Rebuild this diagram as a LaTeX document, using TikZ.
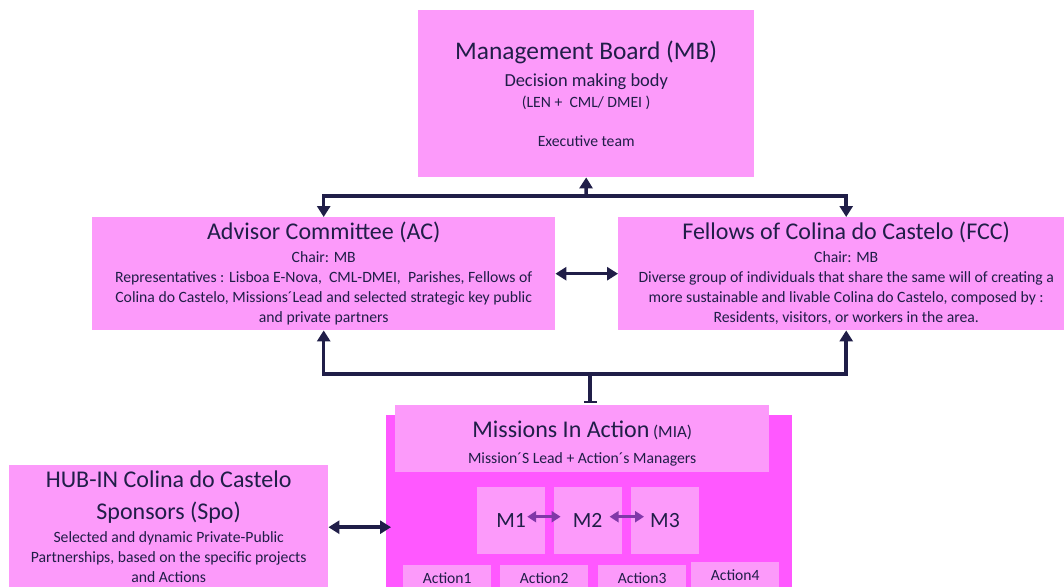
\documentclass[tikz,border=0pt]{standalone}
\usepackage{fontspec}
\setmainfont{Carlito}
\usepackage{xcolor}
\usetikzlibrary{arrows.meta,positioning,calc}

\definecolor{boxpink}{RGB}{252,154,250}
\definecolor{miamag}{RGB}{255,88,255}
\definecolor{navy}{RGB}{32,30,72}
\definecolor{mpurple}{RGB}{128,56,168}

\newcommand{\titlesize}{\fontsize{24}{28}\selectfont}
\newcommand{\subsize}{\fontsize{18.4}{21}\selectfont}
\newcommand{\bodysize}{\fontsize{15.7}{20}\selectfont}

\begin{document}
\begin{tikzpicture}[x=1pt, y=-1pt,
                every node/.style={text=navy, inner sep=0pt},
                pinkbox/.style={fill=boxpink, align=center, anchor=north west, font=\bodysize},
                rel/.style={draw=navy, line width=3.5pt, -{Triangle[length=11pt,width=13pt]}},
                both/.style={draw=navy, line width=3.5pt, {Triangle[length=11pt,width=13pt]}-{Triangle[length=11pt,width=13pt]}},
                stem/.style={draw=navy, line width=3.5pt, -{Bar[width=13pt,line width=2.5pt]}},
                mrel/.style={draw=mpurple, line width=3pt, {Triangle[length=9pt,width=11pt]}-{Triangle[length=9pt,width=11pt]}},
                mbox/.style={fill=boxpink, minimum width=68pt, minimum height=67pt, font=\fontsize{21.7}{24}\selectfont},
                actbox/.style={fill=boxpink, minimum width=88pt, minimum height=25pt, anchor=north west, font=\fontsize{15.6}{18}\selectfont}
            ]
                \useasboundingbox (0,0) rectangle (1064,586);

                % Management Board
                \node[pinkbox, minimum width=336pt, minimum height=167pt] (mb) at (418,10)
                    {{\fontsize{25.4}{28}\selectfont Management Board (MB)}\\[7pt]
                     {\subsize Decision making body}\\[1pt]
                     (LEN +\ \ CML/ DMEI )\\[19pt]
                     Executive team};

                % Advisor Committee and Fellows
                \node[pinkbox, minimum width=463pt, minimum height=113pt] (ac) at (92,217)
                    {{\titlesize Advisor Committee (AC)}\\[3pt]
                     Chair: MB\\
                     Representatives : Lisboa E-Nova,\ \ CML-DMEI,\ \ Parishes, Fellows of\\
                     Colina do Castelo, Missions´Lead and selected strategic key public\\
                     and private partners};
                \node[pinkbox, minimum width=456pt, minimum height=113pt] (fcc) at (618,217)
                    {{\titlesize Fellows of Colina do Castelo (FCC)}\\[3pt]
                     Chair: MB\\
                     Diverse group of individuals that share the same will of creating a\\
                     more sustainable and livable Colina do Castelo, composed by :\\
                     Residents, visitors, or workers in the area.};

                % Sponsors
                \node[pinkbox, minimum width=319pt, minimum height=124pt] (hub) at (9,465)
                    {{\titlesize HUB-IN Colina do Castelo}\\[12pt]
                     {\titlesize Sponsors (Spo)}\\[3pt]
                     Selected and dynamic Private-Public\\
                     Partnerships, based on the specific projects\\
                     and Actions};

                % Missions In Action
                \node[fill=miamag, anchor=north west, minimum width=406pt, minimum height=190pt] (mia) at (386,415) {};
                \node[pinkbox, minimum width=374pt, minimum height=67pt] (miahead) at (395,405)
                    {\rule{0pt}{26pt}{\titlesize Missions In Action} {\fontsize{17}{20}\selectfont (MIA)}\\[6pt]
                     Mission´S Lead + Action´s Managers};

                % missions
                \node[mbox, anchor=north west] (m1) at (477,487) {M1};
                \node[mbox, right=8pt of m1] (m2) {M2};
                \node[mbox, right=9pt of m2] (m3) {M3};

                % actions
                \node[actbox] (act1) at (403,565) {Action1};
                \node[actbox] (act2) at (500,565) {Action2};
                \node[actbox] (act3) at (598,565) {Action3};
                \node[actbox] (act4) at (691,562) {Action4};

                % MB to AC / FCC
                \coordinate (topjoin) at (586,196);
                \draw[rel] (topjoin) -- (mb.south);
                \draw[rel] (topjoin) -| (ac.north);
                \draw[rel] (topjoin) -| (fcc.north);

                % MIA to AC / FCC
                \coordinate (lowjoin) at (590,374);
                \draw[rel] (lowjoin) -| (ac.south);
                \draw[rel] (lowjoin) -| (fcc.south);
                \draw[stem, shorten >=2pt] (lowjoin) -- (lowjoin |- miahead.north);

                \draw[both] (ac.east) -- (fcc.west);
                \draw[both, shorten >=-5pt] (hub.east) -- (hub.east -| mia.west);

                \draw[mrel] ([xshift=16pt,yshift=4pt]m1.center) -- ([xshift=-27pt,yshift=4pt]m2.center);
                \draw[mrel] ([xshift=22pt,yshift=4pt]m2.center) -- ([xshift=-21pt,yshift=4pt]m3.center);
            \end{tikzpicture}
\end{document}
